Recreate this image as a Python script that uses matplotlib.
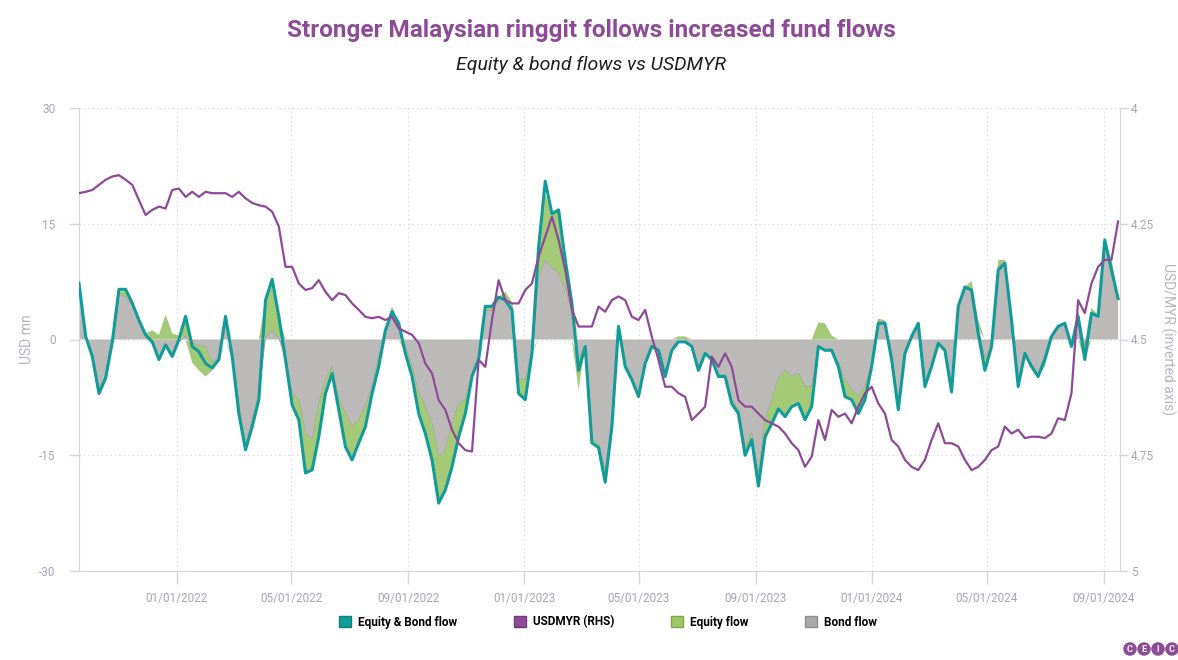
import matplotlib
matplotlib.use("Agg")
import matplotlib.pyplot as plt
import matplotlib.dates as mdates
from matplotlib.patches import Patch
import numpy as np
import pandas as pd

# ---------------- data (weekly) ----------------
dates = pd.date_range("2021-09-20", periods=157, freq="7D")

total_flow = [
    7.3, 0.4, -2.2, -7.0, -5.0, -0.3, 6.5, 6.5, 4.7, 2.5,
    0.6, -0.3, -2.6, -0.7, -2.2, 0.0, 3.0, -0.9, -1.6, -3.1,
    -3.7, -2.6, 3.0, -2.2, -9.6, -14.3, -11.3, -7.8, 5.1, 7.8,
    3.0, -2.6, -8.5, -10.4, -17.3, -16.9, -12.6, -7.0, -4.4, -9.1,
    -13.9, -15.6, -13.4, -11.3, -7.0, -3.5, 1.2, 3.6, 2.1, -1.8,
    -4.8, -9.6, -12.2, -15.6, -21.2, -19.5, -16.5, -12.6, -9.6, -4.8,
    -2.6, 4.3, 4.3, 5.5, 5.1, 3.8, -7.0, -7.8, -1.8, 12.0,
    20.5, 16.3, 16.8, 10.3, 4.7, -4.0, -0.9, -13.4, -14.0, -18.5,
    -11.3, 1.7, -3.5, -5.2, -7.4, -3.1, -0.9, -1.4, -4.8, -1.4,
    -0.3, -0.3, -0.9, -4.0, -1.8, -2.6, -4.8, -4.8, -8.3, -9.6,
    -15.0, -13.0, -19.0, -12.6, -10.9, -9.0, -10.0, -8.7, -8.3, -10.4,
    -8.7, -0.9, -1.4, -1.4, -3.5, -7.4, -7.8, -9.6, -7.8, -3.5,
    2.1, 2.1, -2.6, -9.1, -1.8, 0.4, 2.1, -6.1, -3.5, -0.5,
    -1.4, -6.8, 4.3, 6.8, 6.4, 0.8, -4.0, -0.9, 9.0, 9.9,
    2.5, -6.1, -1.8, -3.5, -4.8, -2.6, 0.4, 1.7, 2.1, -0.9,
    3.0, -2.6, 3.4, 3.0, 12.9, 9.0, 5.3,
]

bond_flow = [
    7.0, 0.4, -2.0, -6.3, -4.8, -0.3, 6.0, 5.5, 4.5, 2.3,
    0.3, -0.5, -2.6, -0.7, -2.2, -0.3, 0.5, -0.5, -0.8, -1.0,
    -3.0, -2.3, 2.6, -2.0, -8.5, -13.5, -10.5, -7.0, 0.4, 1.2,
    0.2, -2.2, -7.0, -7.8, -12.1, -13.0, -8.3, -5.2, -3.5, -7.8,
    -9.6, -11.3, -10.4, -8.7, -6.1, -2.2, 1.2, 4.0, 1.7, -0.9,
    -3.5, -7.0, -8.7, -10.9, -15.2, -14.3, -10.9, -8.3, -7.8, -4.4,
    -2.2, 3.8, 3.8, 5.1, 5.5, 4.5, -5.2, -5.2, -1.4, 8.1,
    10.3, 9.4, 8.6, 6.8, 3.8, -2.5, -0.8, -13.0, -13.5, -17.0,
    -11.0, 1.5, -3.3, -5.0, -7.2, -3.0, -0.8, -1.3, -4.7, -1.2,
    0.1, 0.1, -0.8, -3.9, -1.7, -2.5, -4.6, -4.6, -8.0, -9.0,
    -14.0, -12.1, -17.5, -10.4, -7.8, -5.0, -4.0, -4.8, -4.4, -6.1,
    -6.1, -0.9, -1.4, -1.2, -3.0, -5.2, -6.5, -7.4, -6.1, -3.3,
    2.5, 2.3, -2.5, -8.8, -1.7, 0.4, 2.0, -5.9, -3.3, -0.4,
    -1.3, -6.5, 4.2, 6.5, 6.6, 1.5, -2.5, -0.8, 9.5, 10.0,
    2.8, -6.0, -1.7, -3.2, -4.5, -2.0, 0.3, 1.6, 2.0, -0.8,
    3.3, -0.9, 3.5, 3.0, 12.5, 10.0, 5.2,
]

equity_flow = [
    0.3, 0.0, -0.2, -0.7, -0.2, 0.0, 0.2, 0.8, 0.2, 0.2,
    0.5, 1.2, 0.6, 3.2, 0.8, 0.5, 2.5, -2.5, -3.2, -3.8,
    -1.0, -0.3, 0.4, -0.6, -1.0, -0.8, -0.8, -0.8, 4.7, 6.1,
    2.8, -0.4, -1.5, -2.6, -5.2, -3.9, -4.3, -1.8, -0.9, -1.3,
    -4.3, -4.3, -3.0, -2.6, -0.9, -1.3, 0.0, 0.3, 0.3, -0.9,
    -1.3, -2.6, -3.5, -4.7, -5.8, -5.2, -5.6, -4.3, -1.8, -0.4,
    -0.4, 0.5, 0.5, 0.4, 0.7, 0.3, -1.8, -2.6, -0.4, 3.9,
    8.6, 6.9, 8.2, 3.5, 0.9, -4.0, -0.1, -0.5, -0.5, -1.0,
    -0.3, 0.2, -0.2, -0.2, -0.2, -0.1, -0.1, -0.1, -0.1, -0.2,
    0.3, 0.3, -0.1, -0.1, -0.1, -0.1, -0.2, -0.2, -0.3, -0.6,
    -1.0, -0.9, -1.0, -2.2, -3.1, -4.0, -6.0, -3.9, -3.9, -4.3,
    -2.6, 2.2, 2.1, 0.5, -0.5, -2.2, -1.3, -2.2, -1.7, -0.2,
    0.2, 0.2, -0.1, -0.3, -0.1, 0.0, 0.1, -0.2, -0.2, -0.1,
    -0.1, -0.3, 0.1, 0.3, 1.0, 1.0, -1.5, -0.1, 0.8, 0.3,
    0.2, -0.1, -0.1, -0.3, -0.3, -1.5, 0.1, 0.1, 0.1, -0.1,
    0.3, -1.7, 0.6, 0.2, 0.3, 0.3, 0.1,
]

usdmyr = [
    4.184, 4.181, 4.177, 4.166, 4.155, 4.148, 4.145, 4.155, 4.166, 4.199,
    4.231, 4.220, 4.213, 4.217, 4.177, 4.174, 4.192, 4.181, 4.192, 4.181,
    4.184, 4.184, 4.184, 4.192, 4.181, 4.195, 4.205, 4.210, 4.213, 4.224,
    4.256, 4.343, 4.343, 4.379, 4.393, 4.389, 4.372, 4.397, 4.415, 4.400,
    4.404, 4.422, 4.436, 4.451, 4.454, 4.451, 4.458, 4.451, 4.476, 4.483,
    4.490, 4.508, 4.552, 4.573, 4.631, 4.652, 4.695, 4.724, 4.739, 4.742,
    4.544, 4.559, 4.458, 4.372, 4.415, 4.422, 4.422, 4.393, 4.379, 4.321,
    4.278, 4.235, 4.285, 4.350, 4.436, 4.472, 4.472, 4.472, 4.429, 4.440,
    4.415, 4.407, 4.415, 4.451, 4.458, 4.436, 4.494, 4.544, 4.602, 4.602,
    4.616, 4.624, 4.674, 4.660, 4.645, 4.537, 4.559, 4.530, 4.559, 4.631,
    4.645, 4.645, 4.660, 4.674, 4.681, 4.688, 4.703, 4.724, 4.739, 4.775,
    4.753, 4.674, 4.717, 4.652, 4.667, 4.660, 4.681, 4.645, 4.616, 4.602,
    4.638, 4.660, 4.717, 4.731, 4.760, 4.775, 4.782, 4.760, 4.717, 4.681,
    4.724, 4.724, 4.731, 4.760, 4.782, 4.775, 4.760, 4.739, 4.731, 4.688,
    4.703, 4.695, 4.713, 4.710, 4.710, 4.713, 4.703, 4.670, 4.674, 4.616,
    4.415, 4.443, 4.379, 4.343, 4.328, 4.328, 4.245,
]

x_ticks = ["2022-01-01", "2022-05-01", "2022-09-01", "2023-01-01", "2023-05-01",
           "2023-09-01", "2024-01-01", "2024-05-01", "2024-09-01"]
left_ticks = [-30, -15, 0, 15, 30]
right_ticks = [4, 4.25, 4.5, 4.75, 5]
right_labels = ["4", "4.25", "4.5", "4.75", "5"]

title = "Stronger Malaysian ringgit follows increased fund flows"
subtitle = "Equity & bond flows vs USDMYR"
series_names = ["Equity & Bond flow", "USDMYR (RHS)", "Equity flow", "Bond flow"]

# ---------------- style ----------------
TEAL = "#119b99"
PURPLE = "#8d4b97"
GREEN = "#a4c977"
GRAY = "#bcbab9"
AXIS_C = "#d6d6e0"
LABEL_C = "#a6a6b8"
FONT = "Roboto"

plt.rcParams["font.family"] = [FONT, "DejaVu Sans"]

fig = plt.figure(figsize=(11.78, 6.6), dpi=100)
ax = fig.add_axes([79 / 1178, 1 - 571 / 660, (1120 - 79) / 1178, (571 - 108) / 660])
ax2 = ax.twinx()

B = np.array(bond_flow)
E = np.array(equity_flow)
bpos, bneg = np.maximum(B, 0), np.minimum(B, 0)
epos, eneg = np.maximum(E, 0), np.minimum(E, 0)

ax.fill_between(dates, 0, B, facecolor=GRAY, edgecolor="none", lw=0, zorder=2)
ax.plot(dates, B, color="#9d9b9a", lw=0.7, zorder=2.1)
ax.fill_between(dates, bpos, bpos + epos, facecolor=GREEN, edgecolor="none", lw=0, zorder=3)
ax.fill_between(dates, bneg, bneg + eneg, facecolor=GREEN, edgecolor="none", lw=0, zorder=3)
ax.plot(dates, total_flow, color=TEAL, lw=2.2, zorder=4, solid_joinstyle="round")

ax2.plot(dates, usdmyr, color=PURPLE, lw=1.6, solid_joinstyle="round")

ax.set_xlim(pd.Timestamp("2021-09-20"), pd.Timestamp("2024-09-18"))
ax.set_ylim(-30, 30)
ax2.set_ylim(5, 4)

ax.set_xticks(pd.to_datetime(x_ticks))
ax.xaxis.set_major_formatter(mdates.DateFormatter("%m/%d/%Y"))
ax.set_yticks(left_ticks)
ax.set_yticklabels([str(v) for v in left_ticks])
ax2.set_yticks(right_ticks)
ax2.set_yticklabels(right_labels)

ax.set_axisbelow(True)
ax.grid(True, linestyle=(0, (1, 3)), color="#cfcfd6", lw=0.8)

for a in (ax, ax2):
    for s in a.spines.values():
        s.set_visible(False)
ax.spines["left"].set_visible(True)
ax.spines["left"].set_color(AXIS_C)
ax.spines["bottom"].set_visible(True)
ax.spines["bottom"].set_color(AXIS_C)
ax2.spines["right"].set_visible(True)
ax2.spines["right"].set_color(AXIS_C)

ax.tick_params(axis="x", length=9, width=1, color=AXIS_C, labelcolor=LABEL_C, labelsize=8.5, pad=6)
ax.tick_params(axis="y", length=7, width=1, color=AXIS_C, labelcolor=LABEL_C, labelsize=8.5, pad=10)
ax2.tick_params(axis="y", length=6, width=1, color=AXIS_C, labelcolor=LABEL_C, labelsize=8.5, pad=2)

fig.text(27 / 1178, 1 - 339 / 660, "USD mn", rotation=90, ha="center", va="center",
         color="#b4b4c4", fontsize=10)
fig.text(1168 / 1178, 1 - 339 / 660, "USD/MYR (inverted axis)", rotation=270, ha="center",
         va="center", color="#b4b4c4", fontsize=10)

fig.text(0.502, 1 - 30 / 660, title, ha="center", va="center", color=PURPLE,
         fontsize=17.5, fontweight="bold")
fig.text(0.502, 1 - 65 / 660, subtitle, ha="center", va="center", color="#1e1e1e",
         fontsize=14, style="italic")

handles = [Patch(facecolor=TEAL, edgecolor="#0d7f7d"),
           Patch(facecolor=PURPLE, edgecolor="#6e3a77"),
           Patch(facecolor="#9cc966", edgecolor="#7fa352"),
           Patch(facecolor="#a9a9a9", edgecolor="#8f8f8f")]
fig.legend(handles, series_names, loc="center", bbox_to_anchor=(0.516, 1 - 622 / 660),
           ncol=4, frameon=False, columnspacing=4.8, handlelength=1.0, handleheight=1.0,
           handletextpad=0.6, prop=dict(family=FONT, weight="bold", size=8.5))

for i, ch in enumerate("CEIC"):
    fig.text((1130 + i * 14) / 1178, 1 - 649 / 660, ch, ha="center", va="center",
             color="white", fontsize=6.5, fontweight="bold",
             bbox=dict(boxstyle="circle,pad=0.25", fc=PURPLE, ec="none"))

fig.savefig("out.png", dpi=100, facecolor="white")
